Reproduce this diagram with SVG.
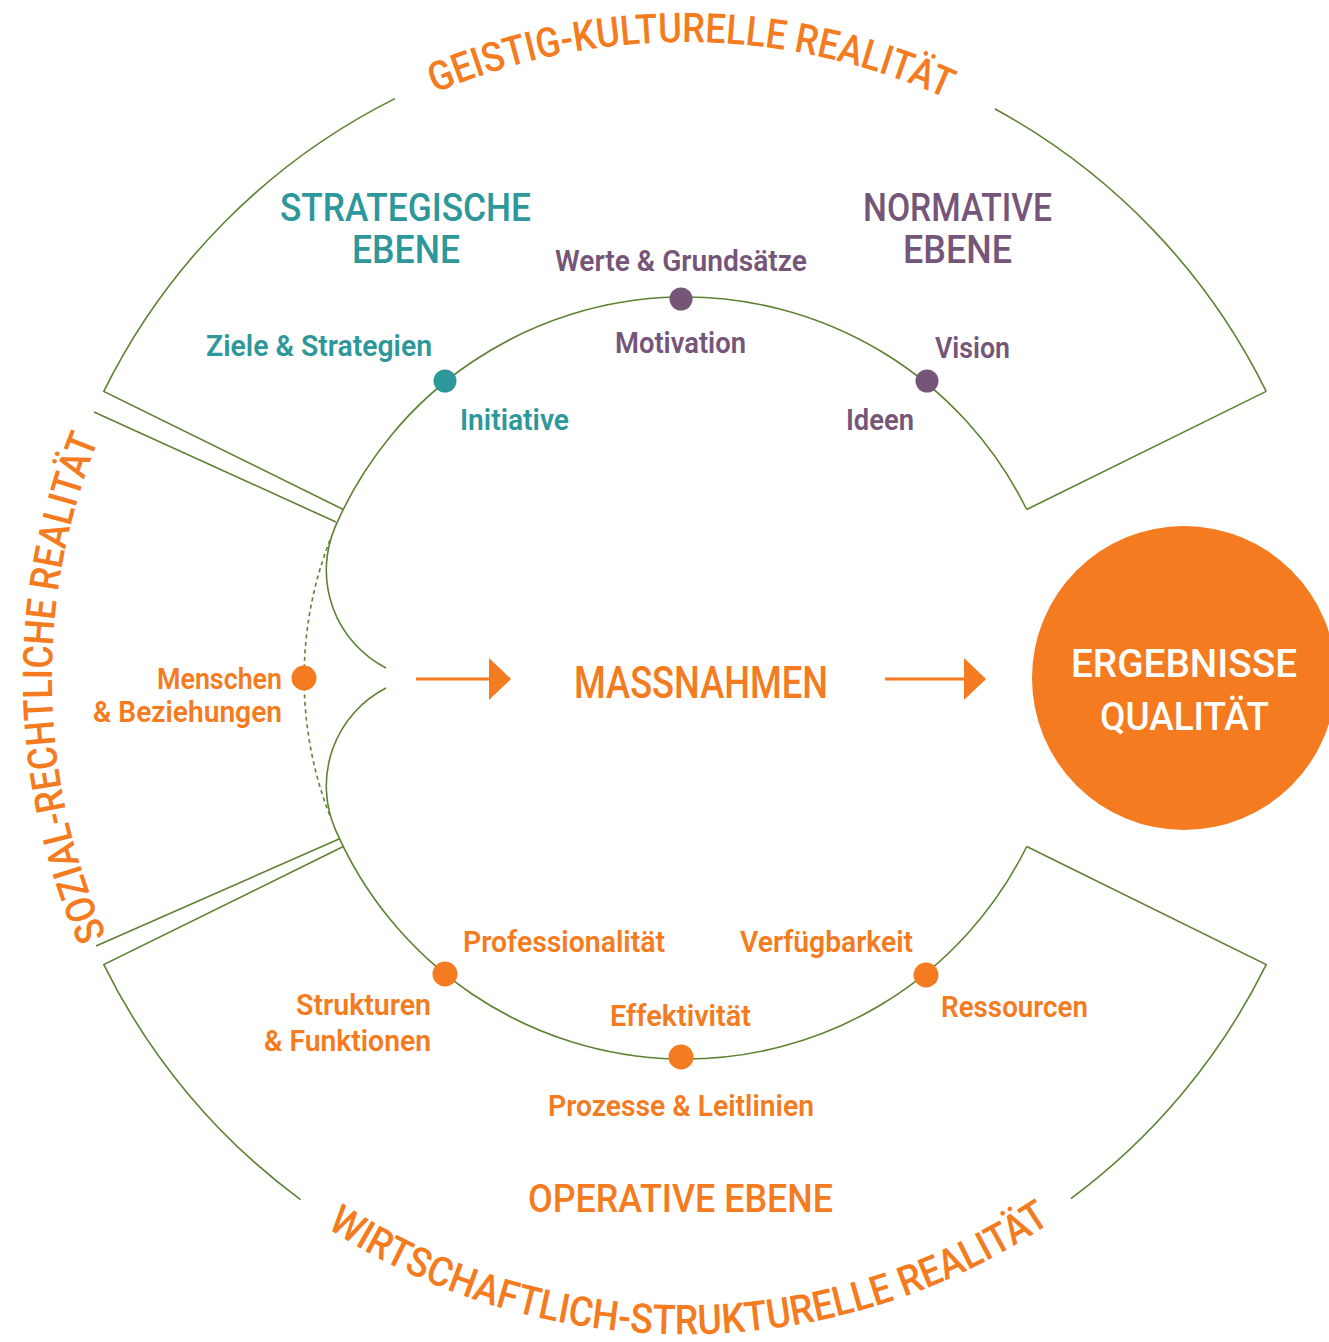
<svg xmlns="http://www.w3.org/2000/svg" width="1329" height="1342" viewBox="0 0 1329 1342">
<defs>
<style>
text{font-family:Roboto,"Liberation Sans",sans-serif;font-weight:500}
.ln{fill:none;stroke:#5e8232;stroke-width:1.6}
.dash{fill:none;stroke:#5e8232;stroke-width:1.6;stroke-dasharray:4 3.5}
.teal{fill:#2e979a}
.purple{fill:#755578}
.orange{fill:#f47b20}
.white{fill:#ffffff}
.lbl{font-size:29px;font-weight:600}
.ttl{font-size:38px}
.arc{font-size:41px;fill:#f47b20}
.arrow{stroke:#f47b20;stroke-width:3;fill:none}
</style>
<marker id="ah" viewBox="0 0 22 42" refX="21" refY="21" markerWidth="22" markerHeight="42" markerUnits="userSpaceOnUse" orient="auto">
<path d="M0,0 L22,21 L0,42 Z" fill="#f47b20"/>
</marker>
<path id="pTop" d="M 87.4 460.5 A 636 636 0 0 1 1282.6 460.5"/>
<path id="pBot" d="M 68.5 902.4 A 656 656 0 0 0 1301.5 902.4"/>
<path id="pLeft" d="M 278.1 1162.9 A 633 633 0 0 1 278.1 193.1"/>
</defs>
<rect width="1329" height="1342" fill="#ffffff"/>

<g id="realm-geistig">
<path class="ln" d="M 394.9 98.6 A 648 648 0 0 0 103.8 391.4 L 343.3 509.5"/>
<path class="ln" d="M 1266.2 391.4 L 1026.7 509.5"/>
<path class="ln" d="M 994.7 108.8 A 648 648 0 0 1 1266.2 391.4"/>
<text class="arc"><textPath href="#pTop" startOffset="783" text-anchor="middle" textLength="527" lengthAdjust="spacingAndGlyphs">GEISTIG-KULTURELLE REALITÄT</textPath></text>
</g>

<g id="realm-wirtschaftlich">
<path class="ln" d="M 343.3 846.5 L 103.8 964.6 A 648 648 0 0 0 300.5 1199.6"/>
<path class="ln" d="M 1026.7 846.5 L 1266.2 964.6 A 648 648 0 0 1 1070.9 1198.6"/>
<text class="arc"><textPath href="#pBot" startOffset="806" text-anchor="middle" textLength="768" lengthAdjust="spacingAndGlyphs">WIRTSCHAFTLICH-STRUKTURELLE REALITÄT</textPath></text>
</g>

<g id="realm-sozial">
<path class="ln" d="M 94 412 L 336 522"/>
<path class="ln" d="M 96 946 L 339 839"/>
<text class="arc"><textPath href="#pLeft" startOffset="542" text-anchor="middle" textLength="510" lengthAdjust="spacingAndGlyphs">SOZIAL-RECHTLICHE REALITÄT</textPath></text>
</g>

<g id="inner-ring">
<path class="ln" d="M 386 668 A 110 110 0 0 1 335.4 526.4 A 381 381 0 0 1 1026.7 509.5"/>
<path class="ln" d="M 386 688 A 110 110 0 0 0 335.4 829.6 A 381 381 0 0 0 1026.7 846.5"/>
<path class="dash" d="M 330 540 A 381 381 0 0 0 330 816"/>
</g>

<g id="strategische-ebene">
<text class="ttl teal" x="280" y="221" textLength="251" lengthAdjust="spacingAndGlyphs">STRATEGISCHE</text>
<text class="ttl teal" x="352" y="263" textLength="108" lengthAdjust="spacingAndGlyphs">EBENE</text>
</g>

<g id="normative-ebene">
<text class="ttl purple" x="863" y="221" textLength="189" lengthAdjust="spacingAndGlyphs">NORMATIVE</text>
<text class="ttl purple" x="903" y="263" textLength="109" lengthAdjust="spacingAndGlyphs">EBENE</text>
</g>

<g id="node-initiative">
<circle class="teal" cx="445" cy="381" r="11.5"/>
<text class="lbl teal" x="206" y="356" textLength="226" lengthAdjust="spacingAndGlyphs">Ziele &amp; Strategien</text>
<text class="lbl teal" x="460" y="430" textLength="109" lengthAdjust="spacingAndGlyphs">Initiative</text>
</g>

<g id="node-motivation">
<circle class="purple" cx="681" cy="299" r="11.5"/>
<text class="lbl purple" x="555" y="271" textLength="252" lengthAdjust="spacingAndGlyphs">Werte &amp; Grundsätze</text>
<text class="lbl purple" x="615" y="353" textLength="131" lengthAdjust="spacingAndGlyphs">Motivation</text>
</g>

<g id="node-ideen">
<circle class="purple" cx="927" cy="381" r="11.5"/>
<text class="lbl purple" x="935" y="358" textLength="75" lengthAdjust="spacingAndGlyphs">Vision</text>
<text class="lbl purple" x="846" y="430" textLength="68" lengthAdjust="spacingAndGlyphs">Ideen</text>
</g>

<g id="node-menschen">
<circle class="orange" cx="304" cy="678" r="12.5"/>
<text class="lbl orange" x="157" y="689" textLength="125" lengthAdjust="spacingAndGlyphs">Menschen</text>
<text class="lbl orange" x="93" y="722" textLength="189" lengthAdjust="spacingAndGlyphs">&amp; Beziehungen</text>
</g>

<g id="node-strukturen">
<circle class="orange" cx="445" cy="974" r="12.5"/>
<text class="lbl orange" x="463" y="952" textLength="202" lengthAdjust="spacingAndGlyphs">Professionalität</text>
<text class="lbl orange" x="296" y="1015" textLength="135" lengthAdjust="spacingAndGlyphs">Strukturen</text>
<text class="lbl orange" x="264" y="1051" textLength="167" lengthAdjust="spacingAndGlyphs">&amp; Funktionen</text>
</g>

<g id="node-prozesse">
<circle class="orange" cx="681" cy="1057" r="12.5"/>
<text class="lbl orange" x="610" y="1026" textLength="141" lengthAdjust="spacingAndGlyphs">Effektivität</text>
<text class="lbl orange" x="548" y="1116" textLength="266" lengthAdjust="spacingAndGlyphs">Prozesse &amp; Leitlinien</text>
</g>

<g id="node-ressourcen">
<circle class="orange" cx="926" cy="975" r="12.5"/>
<text class="lbl orange" x="740" y="952" textLength="173" lengthAdjust="spacingAndGlyphs">Verfügbarkeit</text>
<text class="lbl orange" x="941" y="1017" textLength="147" lengthAdjust="spacingAndGlyphs">Ressourcen</text>
</g>

<g id="operative-ebene">
<text class="ttl orange" x="528" y="1212" textLength="305" lengthAdjust="spacingAndGlyphs">OPERATIVE EBENE</text>
</g>

<g id="massnahmen">
<text class="orange" style="font-size:45px" x="574" y="698" textLength="254" lengthAdjust="spacingAndGlyphs">MASSNAHMEN</text>
</g>

<g id="ergebnisse">
<circle class="orange" cx="1184" cy="678" r="152"/>
<text class="white" style="font-size:39px" x="1071" y="677" textLength="226" lengthAdjust="spacingAndGlyphs">ERGEBNISSE</text>
<text class="white" style="font-size:39px" x="1100" y="730" textLength="169" lengthAdjust="spacingAndGlyphs">QUALITÄT</text>
</g>

<g id="connectors">
<line class="arrow" x1="416" y1="679" x2="510" y2="679" marker-end="url(#ah)"/>
<line class="arrow" x1="885" y1="679" x2="985" y2="679" marker-end="url(#ah)"/>
</g>
</svg>
